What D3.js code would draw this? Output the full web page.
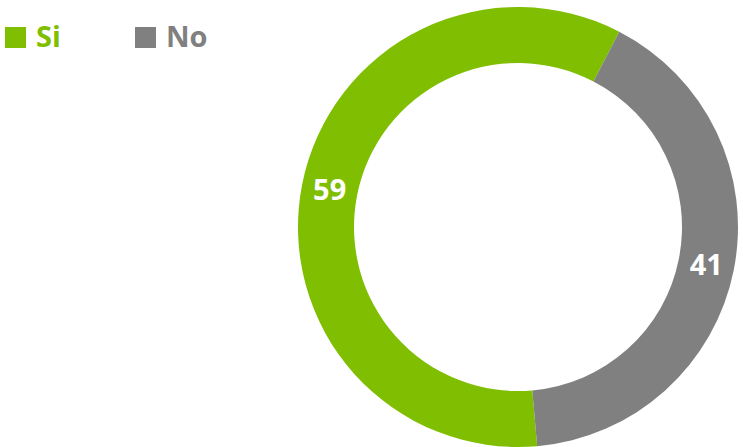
<!DOCTYPE html>
<html>
<head>
<meta charset="utf-8">
<script src="https://cdn.jsdelivr.net/npm/d3@7"></script>
<style>
  body { margin: 0; background: #fff; }
  svg { display: block; font-family: "Open Sans", sans-serif; }
</style>
</head>
<body>
<script>
// values
const categories = ["Si", "No"];
const values = [59, 41];
const colors = ["#7fbe00", "#808080"];

const width = 743, height = 447;
const cx = 518, cy = 227;
const outer = 220, inner = 164;
// first slice (Si) starts a little before the bottom
const start = 175 * Math.PI / 180;

const svg = d3.select("body").append("svg")
    .attr("width", width)
    .attr("height", height);

const pie = d3.pie()
    .sort(null)
    .startAngle(start)
    .endAngle(start + 2 * Math.PI);

const arc = d3.arc().innerRadius(inner).outerRadius(outer);
const color = d3.scaleOrdinal(categories, colors);

const arcs = pie(values);

const g = svg.append("g").attr("transform", `translate(${cx},${cy})`);

g.selectAll("path")
  .data(arcs)
  .join("path")
    .attr("fill", (d, i) => color(categories[i]))
    .attr("d", arc);

g.selectAll("text")
  .data(arcs)
  .join("text")
    .attr("transform", d => `translate(${arc.centroid(d)})`)
    .attr("text-anchor", "middle")
    .attr("dy", "0.36em")
    .attr("fill", "#fff")
    .attr("font-weight", "bold")
    .attr("font-size", 29)
    .text(d => d.data);

// legend
const legend = svg.append("g")
  .selectAll("g")
  .data(categories)
  .join("g")
    .attr("transform", (d, i) => `translate(${5 + i * 130},27)`);

legend.append("rect")
    .attr("width", 21)
    .attr("height", 21)
    .attr("fill", d => color(d));

legend.append("text")
    .attr("x", 31)
    .attr("y", 20)
    .attr("fill", d => color(d))
    .attr("font-weight", "bold")
    .attr("font-size", 29)
    .text(d => d);
</script>
</body>
</html>
